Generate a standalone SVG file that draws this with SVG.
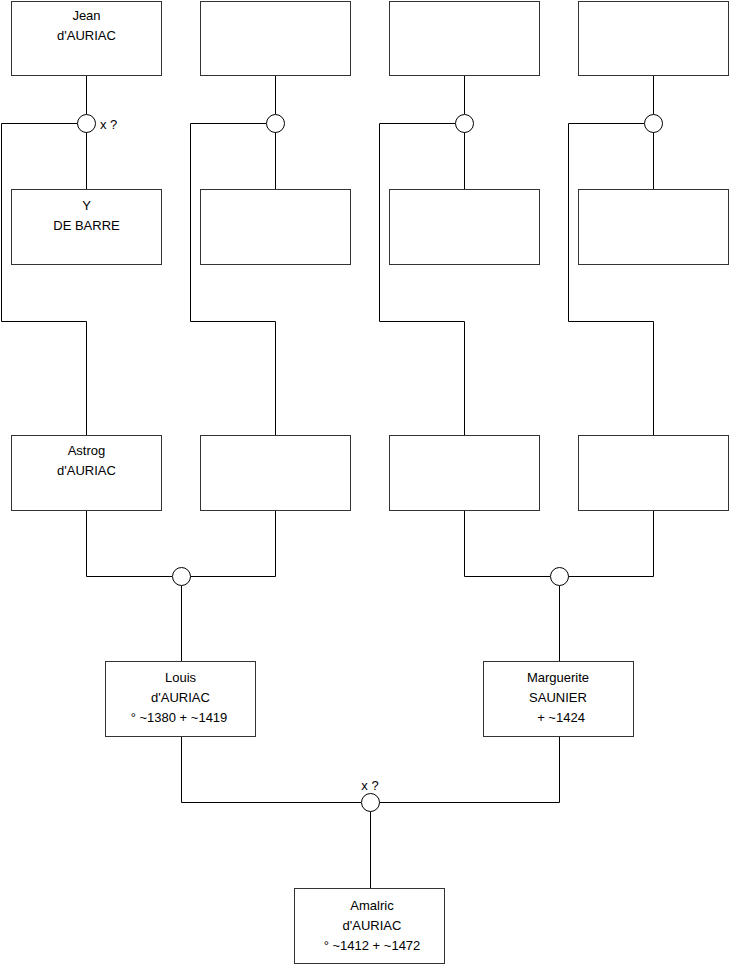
<svg xmlns="http://www.w3.org/2000/svg" width="740" height="975" viewBox="0 0 740 975">
<style>
.box{fill:#fff;stroke:#333;stroke-width:1}
.ln{fill:none;stroke:#000;stroke-width:1}
.c{fill:#fff;stroke:#000;stroke-width:1}
text{font-family:"Liberation Sans",Arial,sans-serif;font-size:13px;fill:#000;text-anchor:middle}
.l{text-anchor:start}
</style>
<rect width="740" height="975" fill="#fff"/>
<g id="connectors">
<path class="ln" d="M86.5 76V114M86.5 132V189M77.5 123.5H1.5V321.5H86.5V435"/>
<path class="ln" d="M275.5 76V114M275.5 132V189M266.5 123.5H190.5V321.5H275.5V435"/>
<path class="ln" d="M464.5 76V114M464.5 132V189M455.5 123.5H379.5V321.5H464.5V435"/>
<path class="ln" d="M653.5 76V114M653.5 132V189M644.5 123.5H568.5V321.5H653.5V435"/>
<path class="ln" d="M86.5 510V576.5H172M190 576.5H275.5V510M181.5 585.5V661"/>
<path class="ln" d="M464.5 510V576.5H550M568 576.5H653.5V510M559.5 585.5V661"/>
<path class="ln" d="M181.5 737V802.5H361M379 802.5H559.5V737M370.5 811.5V888"/>
<circle class="c" cx="86.5" cy="123.5" r="9"/>
<circle class="c" cx="275.5" cy="123.5" r="9"/>
<circle class="c" cx="464.5" cy="123.5" r="9"/>
<circle class="c" cx="653.5" cy="123.5" r="9"/>
<circle class="c" cx="181.5" cy="576.5" r="9"/>
<circle class="c" cx="559.5" cy="576.5" r="9"/>
<circle class="c" cx="370.5" cy="802.5" r="9"/>
<text class="l" x="100" y="128.5">x ?</text>
<text x="370" y="790">x ?</text>
</g>
<g id="jean"><rect class="box" x="11.5" y="1.5" width="150" height="74"/><text x="86.5" y="20">Jean</text><text x="86.5" y="40">d'AURIAC</text></g>
<g id="top2"><rect class="box" x="200.5" y="1.5" width="150" height="74"/></g>
<g id="top3"><rect class="box" x="389.5" y="1.5" width="150" height="74"/></g>
<g id="top4"><rect class="box" x="578.5" y="1.5" width="150" height="74"/></g>
<g id="ydebarre"><rect class="box" x="11.5" y="189.5" width="150" height="75"/><text x="86.5" y="210">Y</text><text x="86.5" y="230">DE BARRE</text></g>
<g id="mid2"><rect class="box" x="200.5" y="189.5" width="150" height="75"/></g>
<g id="mid3"><rect class="box" x="389.5" y="189.5" width="150" height="75"/></g>
<g id="mid4"><rect class="box" x="578.5" y="189.5" width="150" height="75"/></g>
<g id="astrog"><rect class="box" x="11.5" y="435.5" width="150" height="75"/><text x="86.5" y="455">Astrog</text><text x="86.5" y="475">d'AURIAC</text></g>
<g id="r3b2"><rect class="box" x="200.5" y="435.5" width="150" height="75"/></g>
<g id="r3b3"><rect class="box" x="389.5" y="435.5" width="150" height="75"/></g>
<g id="r3b4"><rect class="box" x="578.5" y="435.5" width="150" height="75"/></g>
<g id="louis"><rect class="box" x="105.5" y="661.5" width="150" height="75"/><text x="180.5" y="682">Louis</text><text x="180.5" y="702">d'AURIAC</text><text x="179" y="722">° ~1380 + ~1419</text></g>
<g id="marguerite"><rect class="box" x="483.5" y="661.5" width="150" height="75"/><text x="558" y="682">Marguerite</text><text x="558" y="702">SAUNIER</text><text x="561" y="722">+ ~1424</text></g>
<g id="amalric"><rect class="box" x="294.5" y="888.5" width="150" height="75"/><text x="372" y="910">Amalric</text><text x="372" y="930">d'AURIAC</text><text x="372" y="950">° ~1412 + ~1472</text></g>
</svg>
